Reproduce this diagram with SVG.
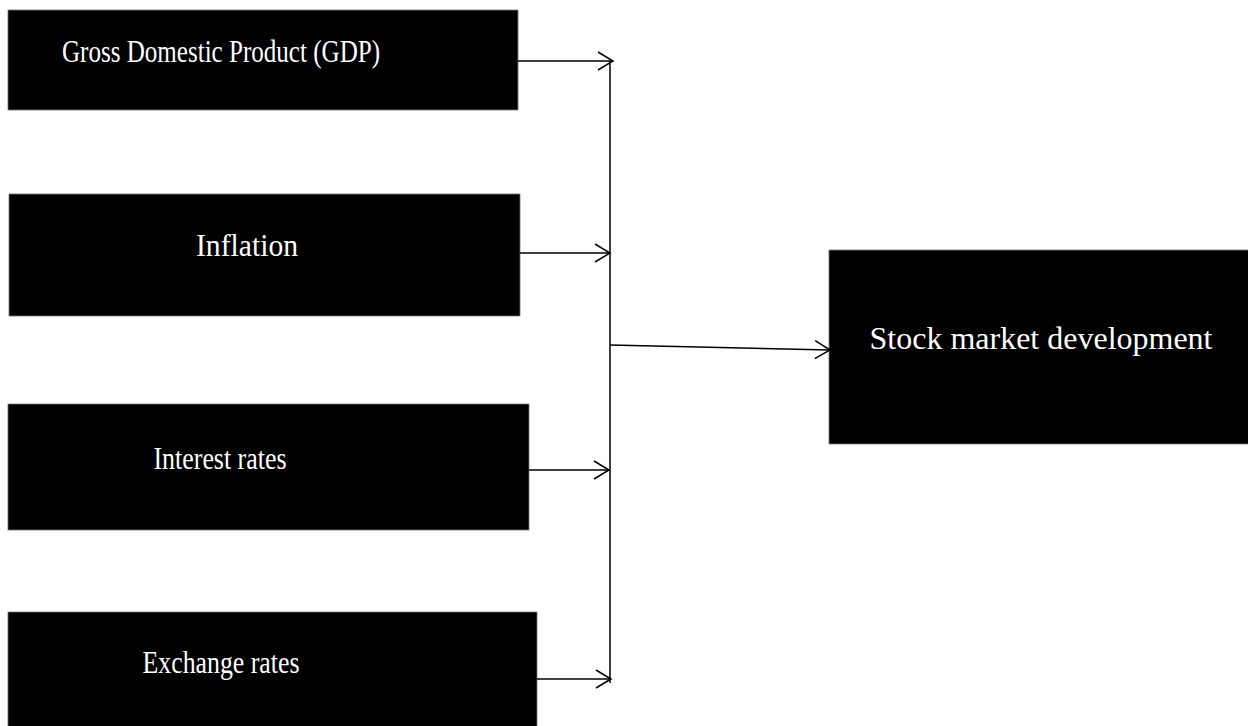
<svg xmlns="http://www.w3.org/2000/svg" width="1248" height="726" viewBox="0 0 1248 726">
<style>
.box{fill:#000;stroke:#777;stroke-width:0.8}
.lbl{fill:#fff;font-family:"Liberation Serif","Times New Roman",serif;font-size:32px;text-anchor:middle}
.conn{stroke:#000;stroke-width:1.5;fill:none}
</style>
<defs>
<marker id="arr" markerWidth="18" markerHeight="20" refX="16" refY="10" orient="auto" markerUnits="userSpaceOnUse">
<path d="M1,1 L16,10 L1,19" fill="none" stroke="#000" stroke-width="1.5"/>
</marker>
</defs>
<rect width="1248" height="726" fill="#fff"/>
<g id="gdp"><rect class="box" x="8" y="10" width="510" height="100"/><text class="lbl" x="221" y="62" textLength="318" lengthAdjust="spacingAndGlyphs">Gross Domestic Product (GDP)</text></g>
<g id="inflation"><rect class="box" x="9" y="194" width="511" height="122"/><text class="lbl" x="247" y="256" textLength="102" lengthAdjust="spacingAndGlyphs">Inflation</text></g>
<g id="interest"><rect class="box" x="8" y="404" width="521" height="126"/><text class="lbl" x="220" y="469" textLength="133" lengthAdjust="spacingAndGlyphs">Interest rates</text></g>
<g id="exchange"><rect class="box" x="8" y="612" width="529" height="116"/><text class="lbl" x="221" y="673" textLength="157" lengthAdjust="spacingAndGlyphs">Exchange rates</text></g>
<g id="stock"><rect class="box" x="829" y="250" width="421" height="194"/><text class="lbl" x="1041" y="349" textLength="343" lengthAdjust="spacingAndGlyphs">Stock market development</text></g>
<g id="connectors">
<line class="conn" x1="610" y1="61" x2="610" y2="683"/>
<line class="conn" x1="518" y1="61" x2="613" y2="61" marker-end="url(#arr)"/>
<line class="conn" x1="520" y1="253" x2="610" y2="253" marker-end="url(#arr)"/>
<line class="conn" x1="529" y1="470" x2="609" y2="470" marker-end="url(#arr)"/>
<line class="conn" x1="537" y1="679" x2="611" y2="679" marker-end="url(#arr)"/>
<line class="conn" x1="610" y1="345" x2="830" y2="350" marker-end="url(#arr)"/>
</g>
</svg>
